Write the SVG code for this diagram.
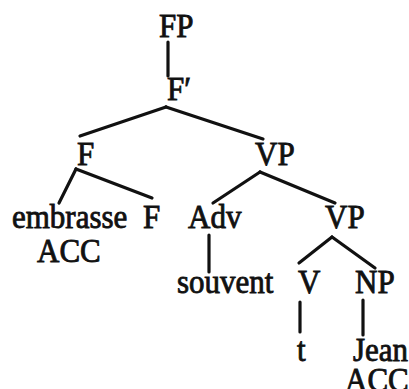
<svg xmlns="http://www.w3.org/2000/svg" width="409" height="389" viewBox="0 0 409 389">
<style>
text{font-family:"Liberation Serif","Times New Roman",serif;font-size:31px;fill:#111;stroke:#111;stroke-width:0.8px}
.e line{stroke:#111;stroke-width:3.2;stroke-linecap:round}
</style>
<rect width="409" height="389" fill="#fff"/>
<g class="e" id="connectors">
<line x1="168" y1="42" x2="168" y2="76"/>
<line x1="166" y1="107" x2="80" y2="136"/>
<line x1="166" y1="107" x2="263" y2="139"/>
<line x1="76" y1="169" x2="59" y2="203"/>
<line x1="76" y1="169" x2="152" y2="198"/>
<line x1="260" y1="172" x2="213" y2="203"/>
<line x1="260" y1="172" x2="335" y2="203"/>
<line x1="209" y1="235" x2="209" y2="272"/>
<line x1="332" y1="237" x2="299" y2="263"/>
<line x1="332" y1="237" x2="375" y2="268"/>
<line x1="300" y1="302" x2="300" y2="332"/>
<line x1="363" y1="300" x2="363" y2="335"/>
</g>
<g id="FP"><text transform="translate(159 37) scale(1 1.07)">FP</text></g>
<g id="Fbar"><text transform="translate(167 100) scale(1 1.07)">F′</text></g>
<g id="F1"><text transform="translate(77 165) scale(1 1.07)">F</text></g>
<g id="VP1"><text transform="translate(255 165) scale(1 1.07)">VP</text></g>
<g id="embrasse"><text transform="translate(12 228) scale(1 1.07)">embrasse</text><text transform="translate(37 262) scale(1 1.07)">ACC</text></g>
<g id="F2"><text transform="translate(143 228) scale(1 1.07)">F</text></g>
<g id="Adv"><text transform="translate(188 228) scale(1 1.07)">Adv</text></g>
<g id="VP2"><text transform="translate(325 228) scale(1 1.07)">VP</text></g>
<g id="souvent"><text transform="translate(177 293) scale(1 1.07)">souvent</text></g>
<g id="V"><text transform="translate(298 293) scale(1 1.07)">V</text></g>
<g id="NP"><text transform="translate(355 293) scale(1 1.07)">NP</text></g>
<g id="t"><text transform="translate(297 361) scale(1 1.07)">t</text></g>
<g id="Jean"><text transform="translate(353 361) scale(1 1.07)">Jean</text><text transform="translate(345 391) scale(1 1.07)">ACC</text></g>
</svg>
